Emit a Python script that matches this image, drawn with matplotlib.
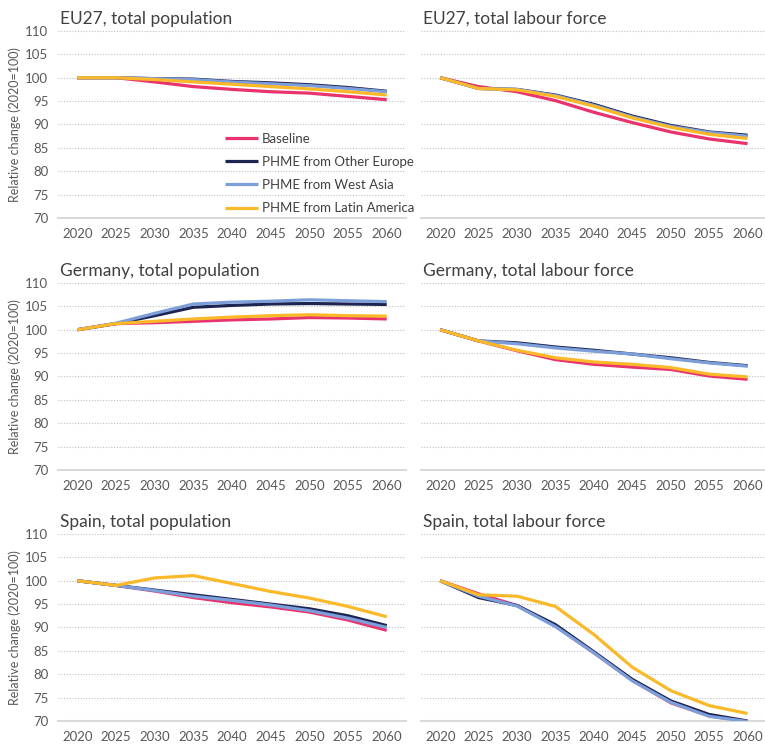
import matplotlib.pyplot as plt

plt.rcParams['font.family'] = ['Lato', 'DejaVu Sans']

years = [2020, 2025, 2030, 2035, 2040, 2045, 2050, 2055, 2060]
series_names = ['Baseline', 'PHME from Other Europe', 'PHME from West Asia', 'PHME from Latin America']
colors = ['#e8336d', '#1c2452', '#7d9fd9', '#fbb829']
zorders = [2, 3, 4, 5]

titles = ['EU27, total population', 'EU27, total labour force',
          'Germany, total population', 'Germany, total labour force',
          'Spain, total population', 'Spain, total labour force']

# values per panel: baseline, other europe, west asia, latin america
eu_pop = [
    [100, 100.0, 99.1, 98.1, 97.5, 97.0, 96.7, 96.0, 95.3],
    [100, 100.0, 99.8, 99.7, 99.2, 98.9, 98.5, 97.9, 97.1],
    [100, 100.0, 99.8, 99.6, 99.1, 98.7, 98.3, 97.7, 97.0],
    [100, 100.0, 99.6, 99.1, 98.6, 98.1, 97.6, 97.0, 96.3],
]
eu_lf = [
    [100, 98.1, 97.0, 95.1, 92.6, 90.4, 88.4, 86.9, 85.9],
    [100, 97.7, 97.5, 96.3, 94.3, 91.8, 89.8, 88.4, 87.7],
    [100, 97.7, 97.5, 96.2, 94.1, 91.6, 89.6, 88.3, 87.5],
    [100, 97.7, 97.4, 96.0, 93.9, 91.4, 89.4, 87.9, 87.0],
]
de_pop = [
    [100, 101.3, 101.5, 101.8, 102.1, 102.3, 102.6, 102.5, 102.3],
    [100, 101.3, 103.0, 104.8, 105.2, 105.5, 105.6, 105.5, 105.4],
    [100, 101.4, 103.5, 105.5, 105.9, 106.1, 106.4, 106.2, 106.0],
    [100, 101.3, 101.8, 102.3, 102.7, 103.0, 103.2, 103.0, 102.9],
]
de_lf = [
    [100, 97.6, 95.5, 93.6, 92.6, 92.0, 91.5, 90.1, 89.4],
    [100, 97.6, 97.2, 96.3, 95.6, 94.8, 94.0, 93.0, 92.3],
    [100, 97.6, 97.0, 96.1, 95.4, 94.8, 93.8, 92.9, 92.2],
    [100, 97.6, 95.6, 94.0, 93.1, 92.6, 91.9, 90.5, 89.9],
]
es_pop = [
    [100, 99.0, 97.8, 96.4, 95.3, 94.4, 93.3, 91.6, 89.4],
    [100, 99.0, 98.0, 97.0, 96.0, 95.0, 94.0, 92.5, 90.4],
    [100, 99.0, 97.9, 96.7, 95.8, 94.8, 93.6, 92.0, 90.0],
    [100, 99.0, 100.6, 101.1, 99.4, 97.7, 96.3, 94.5, 92.3],
]
es_lf = [
    [100, 97.2, 94.7, 90.3, 84.6, 78.7, 73.9, 71.1, 69.9],
    [100, 96.4, 94.7, 90.6, 84.8, 78.9, 74.3, 71.4, 70.0],
    [100, 96.7, 94.6, 90.2, 84.6, 78.6, 74.0, 71.0, 69.9],
    [100, 97.0, 96.7, 94.5, 88.5, 81.5, 76.5, 73.3, 71.6],
]
panels = [eu_pop, eu_lf, de_pop, de_lf, es_pop, es_lf]

fig = plt.figure(figsize=(7.65, 7.46), dpi=100)

col_left = [0.0758, 0.5503]
col_width = [0.455, 0.452]
row_bottom = [0.7078, 0.370, 0.0335]
row_height = 0.2507

for i, data in enumerate(panels):
    r, c = divmod(i, 2)
    ax = fig.add_axes([col_left[c], row_bottom[r], col_width[c], row_height])
    for j, vals in enumerate(data):
        ax.plot(years, vals, color=colors[j], lw=2.3, label=series_names[j],
                zorder=zorders[j], solid_capstyle='butt')
    ax.set_xlim(2017.5, 2062.5)
    ax.set_ylim(70, 110)
    ax.set_xticks(years)
    ax.set_yticks(range(70, 111, 5))
    ax.grid(axis='y', color='#bfbfbf', linestyle=(0, (1, 1.5)), lw=0.8)
    for s in ['top', 'right', 'left']:
        ax.spines[s].set_visible(False)
    ax.spines['bottom'].set_color('#d9d9d9')
    ax.spines['bottom'].set_linewidth(1.5)
    ax.tick_params(length=0, labelsize=9.5, labelcolor='#595959', pad=7)
    if c == 1:
        ax.set_yticklabels([])
    else:
        ax.set_ylabel('Relative change (2020=100)', fontsize=9, color='#595959', labelpad=3)
    ax.set_title(titles[i], loc='left', fontsize=12.5, color='#404040', pad=5, x=0.005)
    if i == 0:
        ax.legend(loc='upper left', bbox_to_anchor=(0.445, 0.52), frameon=False,
                  fontsize=9.5, labelspacing=0.85, handlelength=2.5,
                  handletextpad=0.3, labelcolor='#404040')

plt.savefig('out.png', dpi=100)
